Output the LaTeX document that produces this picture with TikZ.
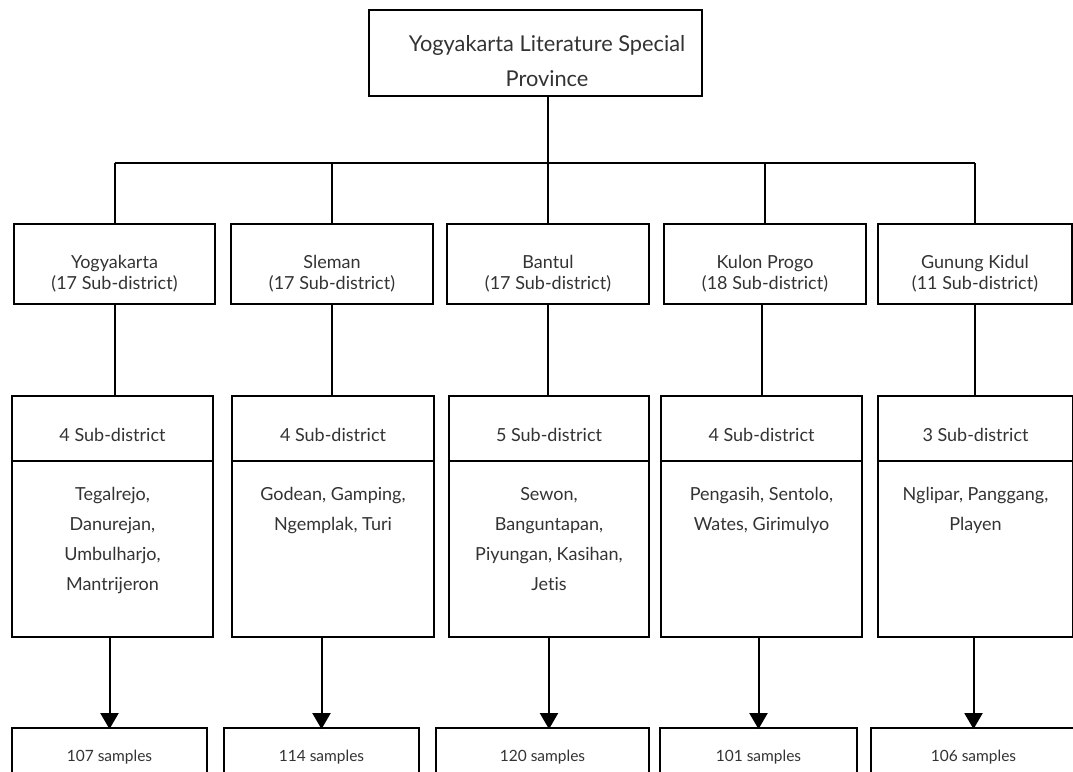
\documentclass[tikz,border=0pt]{standalone}
\usepackage{fontspec}
\setmainfont{Lato}[Ligatures=NoCommon]
\usetikzlibrary{arrows.meta}
\begin{document}
\begin{tikzpicture}[x=1pt,y=-1pt,
  box/.style={draw, line width=2.2pt, rectangle, inner sep=0pt, outer sep=0pt},
  lvltwo/.style={box, minimum height=80pt},
  headbox/.style={box, minimum height=65pt},
  bodybox/.style={box, minimum height=176pt},
  samplebox/.style={box, minimum height=80pt},
  txt/.style={align=center, inner sep=0pt, text=black!80, font=\fontsize{18}{21}\selectfont},
  toptxt/.style={align=center, inner sep=0pt, text=black!80, font=\fontsize{21.8}{35}\selectfont},
  bodytxt/.style={align=center, inner sep=0pt, anchor=north, text=black!80, font=\fontsize{18}{30}\selectfont},
  smalltxt/.style={align=center, inner sep=0pt, text=black!80, font=\fontsize{15.5}{18}\selectfont},
  link/.style={line width=2pt},
  arr/.style={line width=2pt, -{Triangle[length=16pt,width=18pt]}}]
\useasboundingbox (0,0) rectangle (1073,771);
\clip (0,0) rectangle (1073,771);

% province
\node[box, minimum width=333pt, minimum height=86pt] (prov) at (535.5,53) {};
\node[toptxt] (provtxt) at (547,61) {Yogyakarta Literature Special\\Province};

% districts
\node[lvltwo, minimum width=201pt] (d1) at (114.5,264) {};
\node[lvltwo, minimum width=202pt] (d2) at (332,264) {};
\node[lvltwo, minimum width=202pt] (d3) at (548,264) {};
\node[lvltwo, minimum width=202pt] (d4) at (765,264) {};
\node[lvltwo, minimum width=194pt] (d5) at (975,264) {};
\node[txt] (d1t) at (d1 |- 0,274) {Yogyakarta\\(17 Sub-district)};
\node[txt] (d2t) at (d2 |- 0,274) {Sleman\\(17 Sub-district)};
\node[txt] (d3t) at (d3 |- 0,274) {Bantul\\(17 Sub-district)};
\node[txt] (d4t) at (d4 |- 0,274) {Kulon Progo\\(18 Sub-district)};
\node[txt] (d5t) at (d5 |- 0,274) {Gunung Kidul\\(11 Sub-district)};

% sub-district selection: header and list
\node[headbox, minimum width=201pt] (h1) at (112.5,428.5) {};
\node[headbox, minimum width=202pt] (h2) at (333,428.5) {};
\node[headbox, minimum width=200pt] (h3) at (549,428.5) {};
\node[headbox, minimum width=201pt] (h4) at (761.5,428.5) {};
\node[headbox, minimum width=195pt] (h5) at (975.5,428.5) {};
\node[bodybox, minimum width=201pt, anchor=north] (b1) at (h1.south) {};
\node[bodybox, minimum width=202pt, anchor=north] (b2) at (h2.south) {};
\node[bodybox, minimum width=200pt, anchor=north] (b3) at (h3.south) {};
\node[bodybox, minimum width=201pt, anchor=north] (b4) at (h4.south) {};
\node[bodybox, minimum width=195pt, anchor=north] (b5) at (h5.south) {};

\node[txt] (h1t) at (h1 |- 0,435) {4 Sub-district};
\node[txt] (h2t) at (h2 |- 0,435) {4 Sub-district};
\node[txt] (h3t) at (h3 |- 0,435) {5 Sub-district};
\node[txt] (h4t) at (h4 |- 0,435) {4 Sub-district};
\node[txt] (h5t) at (h5 |- 0,435) {3 Sub-district};

\node[bodytxt] (b1t) at (b1.north |- 0,487.5) {Tegalrejo,\\Danurejan,\\Umbulharjo,\\Mantrijeron};
\node[bodytxt] (b2t) at (b2.north |- 0,487.5) {Godean, Gamping,\\Ngemplak, Turi};
\node[bodytxt] (b3t) at (b3.north |- 0,487.5) {Sewon,\\Banguntapan,\\Piyungan, Kasihan,\\Jetis};
\node[bodytxt] (b4t) at (b4.north |- 0,487.5) {Pengasih, Sentolo,\\Wates, Girimulyo};
\node[bodytxt] (b5t) at (b5.north |- 0,487.5) {Nglipar, Panggang,\\Playen};

% samples
\node[samplebox, minimum width=195pt, anchor=north] (s1) at (109.5,728) {};
\node[samplebox, minimum width=195pt, anchor=north] (s2) at (321.5,728) {};
\node[samplebox, minimum width=213pt, anchor=north] (s3) at (542.5,728) {};
\node[samplebox, minimum width=197pt, anchor=north] (s4) at (758.5,728) {};
\node[samplebox, minimum width=205pt, anchor=north] (s5) at (973.5,728) {};
\node[smalltxt] (s1t) at (s1.north |- 0,757) {107 samples};
\node[smalltxt] (s2t) at (s2.north |- 0,757) {114 samples};
\node[smalltxt] (s3t) at (s3.north |- 0,757) {120 samples};
\node[smalltxt] (s4t) at (s4.north |- 0,757) {101 samples};
\node[smalltxt] (s5t) at (s5.north |- 0,757) {106 samples};

% tree connectors
\coordinate (bar) at (0,163);
\draw[link] (prov.south -| d3.north) -- (d3.north);
\draw[link] (d1.north |- bar) -- (d5.north |- bar);
\foreach \i in {1,2,4,5} {
  \draw[link] (d\i.north |- bar) -- (d\i.north);
}
\draw[link] (d1.south) -- (d1.south |- h1.north);
\draw[link] (d2.south) -- (d2.south |- h2.north);
\draw[link] (d3.south) -- (d3.south |- h3.north);
\draw[link] (h4.north |- d4.south) -- (h4.north);
\draw[link] (d5.south) -- (d5.south |- h5.north);

\draw[arr] (s1.north |- b1.south) -- ([yshift=-1.1pt]s1.north);
\draw[arr] (s2.north |- b2.south) -- ([yshift=-1.1pt]s2.north);
\draw[arr] (b3.south) -- ([yshift=-1.1pt]b3.south |- s3.north);
\draw[arr] (s4.north |- b4.south) -- ([yshift=-1.1pt]s4.north);
\draw[arr] (s5.north |- b5.south) -- ([yshift=-1.1pt]s5.north);
\end{tikzpicture}
\end{document}
